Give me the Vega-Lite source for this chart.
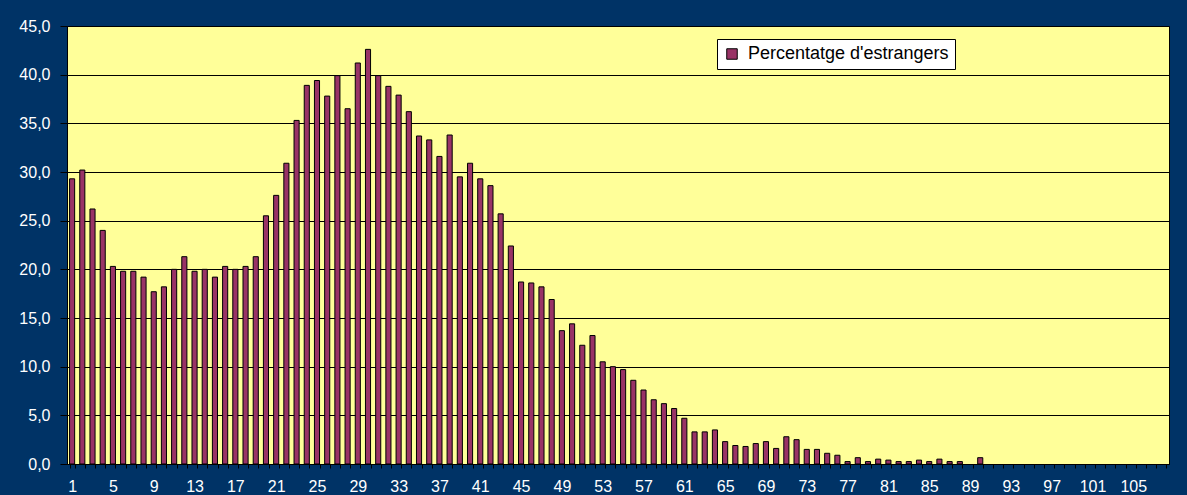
{
  "$schema": "https://vega.github.io/schema/vega-lite/v6.json",
  "width": 1102,
  "height": 438,
  "autosize": {"type": "none"},
  "padding": {"left": 67, "top": 26, "right": 18, "bottom": 31},
  "background": "#003366",
  "config": {
    "font": "Liberation Sans",
    "view": {"fill": "#FFFF99", "stroke": "#000000", "strokeWidth": 1}
  },
  "data": {
    "values": [
      {"edat": 1, "pct": 29.3}, {"edat": 2, "pct": 30.2}, {"edat": 3, "pct": 26.2}, {"edat": 4, "pct": 24.0},
      {"edat": 5, "pct": 20.3}, {"edat": 6, "pct": 19.8}, {"edat": 7, "pct": 19.8}, {"edat": 8, "pct": 19.2},
      {"edat": 9, "pct": 17.7}, {"edat": 10, "pct": 18.2}, {"edat": 11, "pct": 20.0}, {"edat": 12, "pct": 21.3},
      {"edat": 13, "pct": 19.8}, {"edat": 14, "pct": 20.0}, {"edat": 15, "pct": 19.2}, {"edat": 16, "pct": 20.3},
      {"edat": 17, "pct": 20.0}, {"edat": 18, "pct": 20.3}, {"edat": 19, "pct": 21.3}, {"edat": 20, "pct": 25.5},
      {"edat": 21, "pct": 27.6}, {"edat": 22, "pct": 30.9}, {"edat": 23, "pct": 35.3}, {"edat": 24, "pct": 38.9},
      {"edat": 25, "pct": 39.4}, {"edat": 26, "pct": 37.8}, {"edat": 27, "pct": 39.9}, {"edat": 28, "pct": 36.5},
      {"edat": 29, "pct": 41.2}, {"edat": 30, "pct": 42.6}, {"edat": 31, "pct": 39.9}, {"edat": 32, "pct": 38.8},
      {"edat": 33, "pct": 37.9}, {"edat": 34, "pct": 36.2}, {"edat": 35, "pct": 33.7}, {"edat": 36, "pct": 33.3},
      {"edat": 37, "pct": 31.6}, {"edat": 38, "pct": 33.8}, {"edat": 39, "pct": 29.5}, {"edat": 40, "pct": 30.9},
      {"edat": 41, "pct": 29.3}, {"edat": 42, "pct": 28.6}, {"edat": 43, "pct": 25.7}, {"edat": 44, "pct": 22.4},
      {"edat": 45, "pct": 18.7}, {"edat": 46, "pct": 18.6}, {"edat": 47, "pct": 18.2}, {"edat": 48, "pct": 16.9},
      {"edat": 49, "pct": 13.7}, {"edat": 50, "pct": 14.4}, {"edat": 51, "pct": 12.2}, {"edat": 52, "pct": 13.2},
      {"edat": 53, "pct": 10.5}, {"edat": 54, "pct": 10.0}, {"edat": 55, "pct": 9.7}, {"edat": 56, "pct": 8.6},
      {"edat": 57, "pct": 7.6}, {"edat": 58, "pct": 6.6}, {"edat": 59, "pct": 6.2}, {"edat": 60, "pct": 5.7},
      {"edat": 61, "pct": 4.7}, {"edat": 62, "pct": 3.3}, {"edat": 63, "pct": 3.3}, {"edat": 64, "pct": 3.5},
      {"edat": 65, "pct": 2.3}, {"edat": 66, "pct": 1.9}, {"edat": 67, "pct": 1.8}, {"edat": 68, "pct": 2.1},
      {"edat": 69, "pct": 2.3}, {"edat": 70, "pct": 1.6}, {"edat": 71, "pct": 2.8}, {"edat": 72, "pct": 2.5},
      {"edat": 73, "pct": 1.5}, {"edat": 74, "pct": 1.5}, {"edat": 75, "pct": 1.1}, {"edat": 76, "pct": 0.9},
      {"edat": 77, "pct": 0.25}, {"edat": 78, "pct": 0.65}, {"edat": 79, "pct": 0.25}, {"edat": 80, "pct": 0.5},
      {"edat": 81, "pct": 0.4}, {"edat": 82, "pct": 0.25}, {"edat": 83, "pct": 0.25}, {"edat": 84, "pct": 0.4},
      {"edat": 85, "pct": 0.25}, {"edat": 86, "pct": 0.5}, {"edat": 87, "pct": 0.25}, {"edat": 88, "pct": 0.25},
      {"edat": 89, "pct": 0}, {"edat": 90, "pct": 0.65}, {"edat": 91, "pct": 0}, {"edat": 92, "pct": 0},
      {"edat": 93, "pct": 0}, {"edat": 94, "pct": 0}, {"edat": 95, "pct": 0}, {"edat": 96, "pct": 0},
      {"edat": 97, "pct": 0}, {"edat": 98, "pct": 0}, {"edat": 99, "pct": 0}, {"edat": 100, "pct": 0},
      {"edat": 101, "pct": 0}, {"edat": 102, "pct": 0}, {"edat": 103, "pct": 0}, {"edat": 104, "pct": 0},
      {"edat": 105, "pct": 0}, {"edat": 106, "pct": 0}, {"edat": 107, "pct": 0}, {"edat": 108, "pct": 0}
    ]
  },
  "mark": {"type": "bar", "stroke": "#000000", "strokeWidth": 1},
  "encoding": {
    "x": {
      "field": "edat",
      "type": "ordinal",
      "scale": {"paddingInner": 0.5, "paddingOuter": 0.25},
      "axis": {
        "title": null,
        "labelAngle": 0,
        "labelColor": "#FFFFFF",
        "labelFontSize": 16,
        "labelPadding": 10,
        "tickSize": 4,
        "tickColor": "#000000",
        "tickBand": "extent",
        "domainColor": "#000000",
        "labelExpr": "(datum.value - 1) % 4 == 0 ? datum.label : ''",
        "labelOverlap": false,
        "grid": false
      }
    },
    "y": {
      "field": "pct",
      "type": "quantitative",
      "scale": {"domain": [0, 45], "nice": false},
      "axis": {
        "title": null,
        "values": [0, 5, 10, 15, 20, 25, 30, 35, 40, 45],
        "labelExpr": "replace(format(datum.value, '.1f'), '.', ',')",
        "labelColor": "#FFFFFF",
        "labelFontSize": 16,
        "labelPadding": 10,
        "tickSize": 7,
        "tickColor": "#000000",
        "domainColor": "#000000",
        "grid": true,
        "gridColor": "#000000",
        "gridWidth": 1,
        "gridOpacity": 1
      }
    },
    "strokeOpacity": {
      "condition": {"test": "datum.pct == 0", "value": 0},
      "value": 1
    },
    "color": {
      "datum": "Percentatge d'estrangers",
      "type": "nominal",
      "scale": {"range": ["#993366"]},
      "legend": {
        "title": null,
        "orient": "none",
        "legendX": 650,
        "legendY": 13,
        "fillColor": "#FFFFFF",
        "strokeColor": "#000000",
        "padding": 6,
        "symbolType": "square",
        "symbolSize": 110,
        "symbolStrokeColor": "#000000",
        "symbolStrokeWidth": 1,
        "symbolOpacity": 1,
        "labelFontSize": 18,
        "labelLimit": 400,
        "labelColor": "#000000",
        "labelOffset": 7
      }
    }
  }
}
